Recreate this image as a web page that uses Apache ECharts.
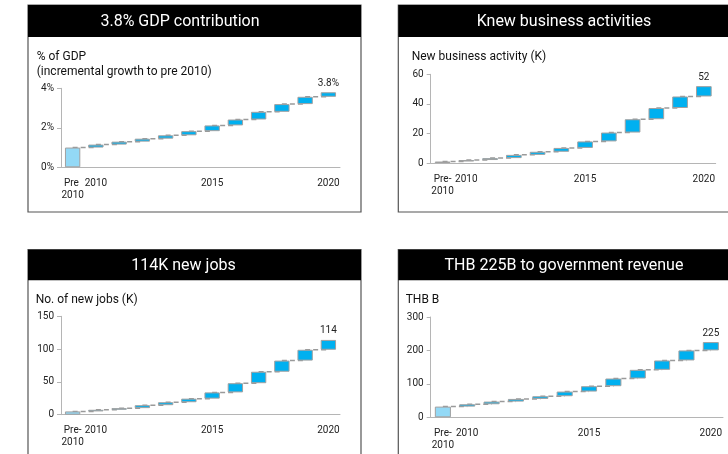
<!DOCTYPE html>
<html>
<head>
<meta charset="utf-8">
<script src="https://cdn.jsdelivr.net/npm/echarts@6/dist/echarts.min.js"></script>
<style>
  html, body { margin: 0; padding: 0; background: #fff; }
  #chart { width: 728px; height: 454px; }
</style>
</head>
<body>
<div id="chart"></div>
<script>
// Categories: the pre-2010 base plus one column per year
const years = ['2010', '2011', '2012', '2013', '2014', '2015', '2016', '2017', '2018', '2019', '2020'];
const shownYears = ['2010', '2015', '2020'];
const preLabelGdp = 'Pre \n2010';
const preLabelOther = 'Pre-\n2010';

// Cumulative totals per column (first value = pre-2010 base)
const gdpValues = [1.0, 1.15, 1.3, 1.45, 1.62, 1.83, 2.12, 2.42, 2.81, 3.2, 3.57, 3.8];
const businessValues = [1, 2, 3.3, 5.5, 7.6, 10.2, 14.6, 20.6, 29.6, 37.2, 45, 52];
const jobsValues = [5, 7.5, 10, 14.5, 19, 24.5, 34, 48, 65.5, 82.5, 99, 114];
const revenueValues = [32, 39, 47, 55, 63, 77, 93, 116, 142, 170, 200, 225];

// Panel headings and axis captions
const panelTitles = ['3.8% GDP contribution', 'Knew business activities', '114K new jobs', 'THB 225B to government revenue'];
const axisCaptions = [['% of GDP', '(incremental growth to pre 2010)'], ['New business activity (K)'], ['No. of new jobs (K)'], ['THB B']];

// Y axis ranges
const yTicks = [
  { max: 4, interval: 2, suffix: '%' },
  { max: 60, interval: 20, suffix: '' },
  { max: 150, interval: 50, suffix: '' },
  { max: 300, interval: 100, suffix: '' }
];

const FONT = 'Roboto';
const BAR_BLUE = '#00b0f0';
const BAR_LIGHT = '#93d9f6';
const BORDER = '#a0a0a0';

const series = [gdpValues, businessValues, jobsValues, revenueValues];
const grids = [
  { left: 61, top: 88.3, width: 279, height: 79 },
  { left: 430.7, top: 74.3, width: 285, height: 88.7 },
  { left: 61, top: 316.3, width: 279, height: 98.4 },
  { left: 430.7, top: 317, width: 292.3, height: 100.3 }
];
const panels = [
  { x: 28, y: 5, w: 333, h: 207, hh: 32, tx: 180, sx: 36.7, sy: 57 },
  { x: 398.3, y: 5, w: 340, h: 207, hh: 32, tx: 564, sx: 411.7, sy: 57 },
  { x: 28, y: 249.7, w: 333, h: 230, hh: 30.6, tx: 183.5, sx: 35.7, sy: 300 },
  { x: 398.3, y: 249.7, w: 340, h: 230, hh: 30.6, tx: 564, sx: 405.7, sy: 300 }
];

const xAxes = [], yAxes = [], allSeries = [], graphics = [];

panels.forEach(function (p, i) {
  graphics.push({
    type: 'rect', shape: { x: p.x, y: p.y, width: p.w, height: p.h },
    style: { fill: '#fff', stroke: '#555', lineWidth: 1.2 }, z: -10
  });
  graphics.push({
    type: 'rect', shape: { x: p.x, y: p.y, width: p.w, height: p.hh },
    style: { fill: '#000' }, z: -9
  });
  graphics.push({
    type: 'text', x: p.tx, y: p.y + p.hh / 2 + 1,
    style: { text: panelTitles[i], fill: '#fff', font: '16px ' + FONT, textAlign: 'center', textVerticalAlign: 'middle' }
  });
  axisCaptions[i].forEach(function (line, k) {
    graphics.push({
      type: 'text', x: p.sx, y: p.sy + k * 15,
      style: { text: line, fill: '#111', font: '12px ' + FONT, textAlign: 'left', textVerticalAlign: 'middle' }
    });
  });
});

series.forEach(function (vals, i) {
  const cats = [i === 0 ? preLabelGdp : preLabelOther].concat(years);
  const base = vals.map(function (v, k) { return k === 0 ? 0 : vals[k - 1]; });
  const delta = vals.map(function (v, k) { return +(v - base[k]).toFixed(4); });
  const yt = yTicks[i];

  xAxes.push({
    type: 'category', gridIndex: i, data: cats,
    axisLine: { lineStyle: { color: '#b5b5b5', width: 1 } },
    axisTick: { length: 4, lineStyle: { color: '#b5b5b5' } },
    axisLabel: {
      interval: 0, margin: 10, color: '#222', fontFamily: FONT, fontSize: 10, lineHeight: 12,
      formatter: function (v, k) { return (k === 0 || shownYears.indexOf(v) >= 0) ? v : ''; }
    }
  });
  yAxes.push({
    type: 'value', gridIndex: i, min: 0, max: yt.max, interval: yt.interval,
    axisLine: { show: true, lineStyle: { color: '#b5b5b5', width: 1 } },
    axisTick: { show: true, length: 4, lineStyle: { color: '#b5b5b5' } },
    splitLine: { show: false },
    axisLabel: { margin: 7, color: '#222', fontFamily: FONT, fontSize: 10, formatter: '{value}' + yt.suffix }
  });

  // dashed connectors between consecutive columns at the running total
  allSeries.push({
    type: 'custom', xAxisIndex: i, yAxisIndex: i, z: 1, silent: true,
    data: vals.slice(0, vals.length - 1).map(function (v, k) { return [k, v]; }),
    renderItem: function (params, api) {
      const k = api.value(0);
      const p1 = api.coord([k, api.value(1)]);
      const p2 = api.coord([k + 1, api.value(1)]);
      return {
        type: 'line',
        shape: { x1: p1[0], y1: p1[1], x2: p2[0], y2: p2[1] },
        style: { stroke: '#9a9a9a', lineWidth: 1.5, lineDash: [5, 3] }
      };
    }
  });
  allSeries.push({
    type: 'bar', xAxisIndex: i, yAxisIndex: i, stack: 'w' + i, z: 2, silent: true,
    barWidth: '66%', itemStyle: { color: 'transparent' }, data: base
  });
  allSeries.push({
    type: 'bar', xAxisIndex: i, yAxisIndex: i, stack: 'w' + i, z: 3, silent: true,
    barWidth: '66%',
    data: delta.map(function (d, k) {
      const item = { value: d, itemStyle: { color: k === 0 ? BAR_LIGHT : BAR_BLUE, borderColor: BORDER, borderWidth: 1 } };
      if (k === vals.length - 1) {
        item.label = {
          show: true, position: 'top', distance: 4, color: '#222', fontFamily: FONT, fontSize: 10,
          formatter: function () { return vals[k] + yt.suffix; }
        };
      }
      return item;
    })
  });
});

const chart = echarts.init(document.getElementById('chart'), null, { renderer: 'canvas' });
chart.setOption({
  animation: false,
  backgroundColor: '#fff',
  grid: grids.map(function (g) { return Object.assign({ containLabel: false }, g); }),
  xAxis: xAxes,
  yAxis: yAxes,
  series: allSeries,
  graphic: graphics
});
</script>
</body>
</html>
